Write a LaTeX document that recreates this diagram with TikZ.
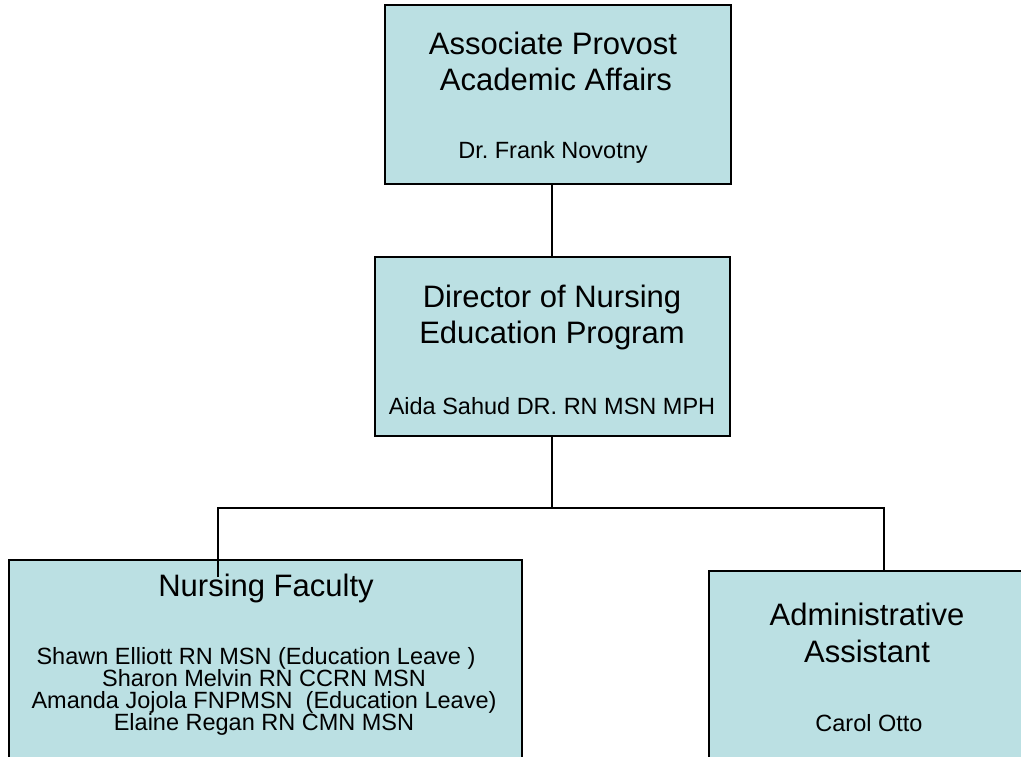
\documentclass[tikz,border=0pt]{standalone}
\usepackage{fontspec}
\setmainfont{Liberation Sans}
\usetikzlibrary{shadows}
\definecolor{boxfill}{RGB}{187,224,227}
\frenchspacing
\begin{document}
\begin{tikzpicture}[x=1pt,y=-1pt,
  box/.style={draw=black, line width=1.6pt, fill=boxfill, inner sep=0pt, anchor=north west,
    drop shadow={shadow xshift=1.5pt, shadow yshift=-1.5pt, fill=gray!55, opacity=1}},
  big/.style={inner sep=0pt, anchor=base, font=\fontsize{31}{36}\selectfont},
  small/.style={inner sep=0pt, anchor=base, font=\fontsize{23.5}{22}\selectfont},
  wire/.style={line width=1.8pt}]
\useasboundingbox (0,0) rectangle (1021,757);
\clip (0,0) rectangle (1021,757);
\fill[white] (0,0) rectangle (1021,757);

% boxes
\node[box, minimum width=346pt, minimum height=179pt] (top) at (384,4) {};
\node[box, minimum width=355pt, minimum height=179pt] (mid) at (374,256) {};
\node[box, minimum width=513pt, minimum height=230pt] (fac) at (8,559) {};
\node[box, minimum width=330pt, minimum height=220pt] (adm) at (708,570) {};

% texts
\node[big] (t1) at (553,55) {Associate Provost};
\node[big] (t2) at (556,91) {Academic Affairs};
\node[small] (t3) at (553,159) {Dr. Frank Novotny};

\node[big] (m1) at (552,307) {Director of Nursing};
\node[big] (m2) at (552,343) {Education Program};
\node[small] (m3) at (552,414) {Aida Sahud DR. RN MSN MPH};

\node[big] (f0) at (266,596) {Nursing Faculty};
\node[small] (f1) at (256,664) {Shawn Elliott RN MSN (Education Leave )};
\node[small] (f2) at (264,686) {Sharon Melvin RN CCRN MSN};
\node[small] (f3) at (264,708) {Amanda Jojola FNPMSN\ \ (Education Leave)};
\node[small] (f4) at (264,730) {Elaine Regan RN CMN MSN};

\node[big] (a1) at (867,625) {Administrative};
\node[big] (a2) at (867,662) {Assistant};
\node[small] (a3) at (869,731) {Carol Otto};

% connectors
\coordinate (busL) at (218,508);
\coordinate (busR) at (884,508);
\coordinate (facin) at (218,577);
\draw[wire] (mid.north) -- (mid.north |- top.south);
\draw[wire] (mid.south) -- (mid.south |- busL);
\draw[wire] (facin) -- (busL) -- (busR) -- (busR |- adm.north);
\end{tikzpicture}
\end{document}
